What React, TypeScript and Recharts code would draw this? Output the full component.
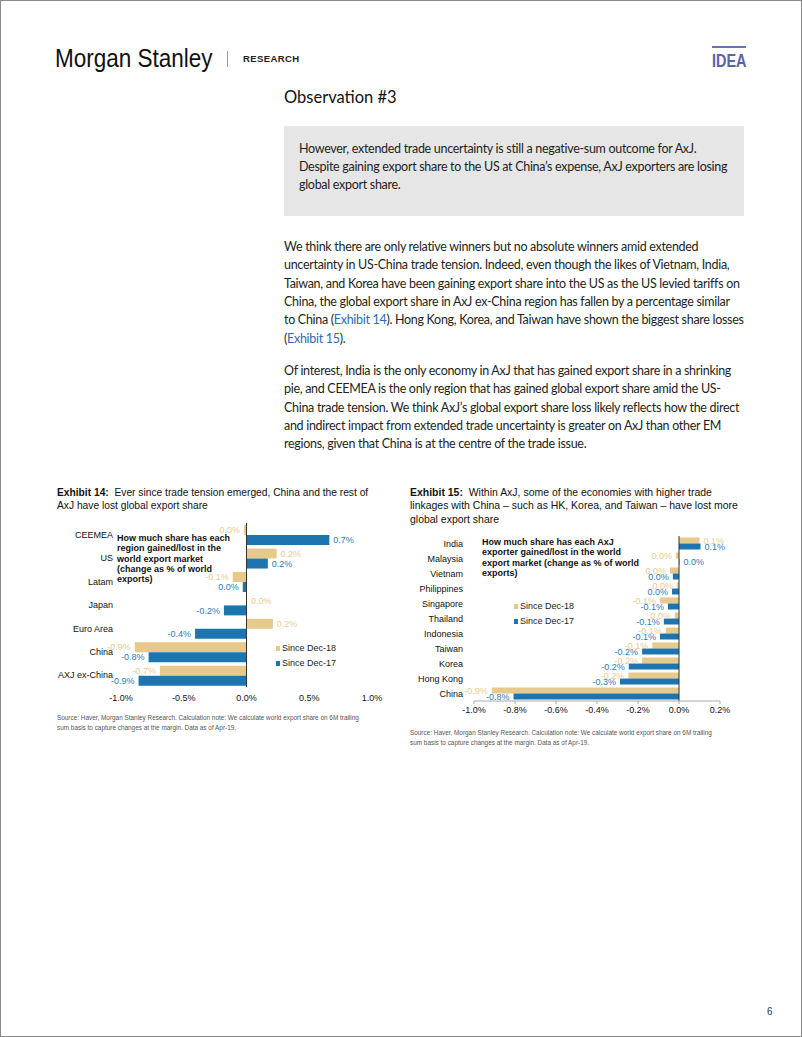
import React from 'react';
import { BarChart, Bar, XAxis, YAxis, ReferenceLine, LabelList, Legend } from 'recharts';

// ---------- Exhibit 14 data ----------
const regions = ['CEEMEA', 'US', 'Latam', 'Japan', 'Euro Area', 'China', 'AXJ ex-China'];
const regionSinceDec18 = [-0.02, 0.24, -0.11, 0.004, 0.21, -0.89, -0.69];
const regionSinceDec17 = [0.66, 0.17, -0.03, -0.18, -0.41, -0.78, -0.86];
const regionTicks = [-1, -0.5, 0, 0.5, 1];

// ---------- Exhibit 15 data ----------
const economies = ['India', 'Malaysia', 'Vietnam', 'Philippines', 'Singapore', 'Thailand', 'Indonesia', 'Taiwan', 'Korea', 'Hong Kong', 'China'];
const econSinceDec18 = [0.1, -0.015, -0.044, -0.01, -0.093, -0.02, -0.064, -0.13, -0.18, -0.247, -0.913];
const econSinceDec17 = [0.105, 0.002, -0.03, -0.034, -0.054, -0.074, -0.093, -0.18, -0.245, -0.288, -0.807];
const econTicks = [-1, -0.8, -0.6, -0.4, -0.2, 0, 0.2];

const seriesNames = ['Since Dec-18', 'Since Dec-17'];

const regionData = regions.map((name, i) => ({ name, d18: regionSinceDec18[i], d17: regionSinceDec17[i] }));
const econData = economies.map((name, i) => ({ name, d18: econSinceDec18[i], d17: econSinceDec17[i] }));

const TAN = '#E8C98C';
const TAN_LABEL = '#EBCB90';
const BLUE = '#1C75AE';
const BLUE_LABEL = '#2A7CB8';
const ARIAL = "'Liberation Sans', Arial, sans-serif";
const BODY = "Lato, 'Open Sans', sans-serif";

const fmt = (v: number) => {
  const r = Math.round(v * 10) / 10;
  return (r === 0 ? 0 : r).toFixed(1) + '%';
};

const makeLabel = (color: string) => (props: any) => {
  const x = Number(props.x), w = Number(props.width), y = Number(props.y), h = Number(props.height);
  const v = Number(props.value);
  const end = v >= 0 ? Math.max(x, x + w) : Math.min(x, x + w);
  return (
    <text
      x={end + (v >= 0 ? 4 : -4)}
      y={y + h / 2}
      dy="0.35em"
      textAnchor={v >= 0 ? 'start' : 'end'}
      fill={color}
      fontSize={9}
      fontFamily={ARIAL}
    >
      {fmt(v)}
    </text>
  );
};

const YTick = (props: any) => (
  <text x={props.x} y={props.y} dy="0.35em" textAnchor="end" fontSize={9} fontFamily={ARIAL} fill="#111">
    {props.payload.value}
  </text>
);

const LegendContent = (props: any) => {
  const payload = [...(props.payload || [])].sort(
    (a: any, b: any) => seriesNames.indexOf(a.value) - seriesNames.indexOf(b.value)
  );
  return (
    <div style={{ fontFamily: ARIAL, fontSize: 9, color: '#222', lineHeight: '15px' }}>
      {payload.map((p: any) => (
        <div key={p.value} style={{ display: 'flex', alignItems: 'center', whiteSpace: 'nowrap' }}>
          <span style={{ display: 'inline-block', width: 4, height: 5, background: p.color, marginRight: 2 }} />
          <span>{p.value}</span>
        </div>
      ))}
    </div>
  );
};

const Abs = ({ x, y, style, children, sx }: any) => (
  <div
    style={{
      position: 'absolute',
      left: x,
      top: y,
      whiteSpace: 'nowrap',
      transform: sx ? `scaleX(${sx})` : undefined,
      transformOrigin: '0 0',
      ...style,
    }}
  >
    {children}
  </div>
);

const bodyStyle = { fontFamily: BODY, fontSize: 12.5, letterSpacing: '-0.3px', color: '#231F20', lineHeight: '18px' };
const link = { color: '#2B6CB0' };
const titleStyle = { fontFamily: ARIAL, fontSize: 11.5, color: '#111', lineHeight: '13.3px' };

const p1 = [
  'We think there are only relative winners but no absolute winners amid extended',
  'uncertainty in US-China trade tension. Indeed, even though the likes of Vietnam, India,',
  'Taiwan, and Korea have been gaining export share into the US as the US levied tariffs on',
  'China, the global export share in AxJ ex-China region has fallen by a percentage similar',
];
const p2 = [
  'Of interest, India is the only economy in AxJ that has gained export share in a shrinking',
  'pie, and CEEMEA is the only region that has gained global export share amid the US-',
  'China trade tension. We think AxJ\u2019s global export share loss likely reflects how the direct',
  'and indirect impact from extended trade uncertainty is greater on AxJ than other EM',
  'regions, given that China is at the centre of the trade issue.',
];
const boxLines = [
  'However, extended trade uncertainty is still a negative-sum outcome for AxJ.',
  'Despite gaining export share to the US at China\u2019s expense, AxJ exporters are losing',
  'global export share.',
];

const tickFmt = (v: number) => v.toFixed(1) + '%';

export default function App() {
  return (
    <div style={{ position: 'absolute', left: 0, top: 0, width: 802, height: 1037, background: '#fff', overflow: 'hidden' }}>
      {/* Page border */}
      <div style={{ position: 'absolute', left: 0, top: 0, width: 800, height: 1035, border: '1px solid #8A8A8A' }} />

      {/* Header */}
      <Abs x={55} y={43} sx={0.9} style={{ fontFamily: ARIAL, fontSize: 25, color: '#111', lineHeight: '30px' }}>Morgan Stanley</Abs>
      <div style={{ position: 'absolute', left: 227, top: 51, width: 1, height: 16, background: '#999' }} />
      <Abs x={243} y={53} style={{ fontFamily: ARIAL, fontSize: 9.5, fontWeight: 700, letterSpacing: '0.4px', color: '#222', lineHeight: '12px' }}>RESEARCH</Abs>
      <div style={{ position: 'absolute', left: 712, top: 46, width: 34, height: 2, background: '#6D72B3' }} />
      <Abs x={712} y={51} sx={0.76} style={{ fontFamily: ARIAL, fontSize: 19, fontWeight: 700, color: '#5C62A8', lineHeight: '20px' }}>IDEA</Abs>

      {/* Observation */}
      <Abs x={284} y={86} style={{ fontFamily: BODY, fontSize: 16.5, color: '#111', lineHeight: '22px' }}>Observation #3</Abs>
      <div style={{ position: 'absolute', left: 284, top: 126, width: 460, height: 90, background: '#E6E6E6' }} />
      {boxLines.map((t, i) => (
        <Abs key={'b' + i} x={299} y={140 + i * 18.2} style={bodyStyle}>{t}</Abs>
      ))}
      {p1.map((t, i) => (
        <Abs key={'p1' + i} x={284} y={238 + i * 18.3} style={bodyStyle}>{t}</Abs>
      ))}
      <Abs x={284} y={238 + 4 * 18.3} style={bodyStyle}>
        to China (<span style={link}>Exhibit 14</span>). Hong Kong, Korea, and Taiwan have shown the biggest share losses
      </Abs>
      <Abs x={284} y={238 + 5 * 18.3} style={bodyStyle}>
        (<span style={link}>Exhibit 15</span>).
      </Abs>
      {p2.map((t, i) => (
        <Abs key={'p2' + i} x={284} y={362 + i * 18.3} style={bodyStyle}>{t}</Abs>
      ))}

      {/* Exhibit 14 title */}
      <Abs x={57} y={486} sx={0.89} style={titleStyle}>
        <b>Exhibit 14:</b>&nbsp; Ever since trade tension emerged, China and the rest of<br />
        AxJ have lost global export share
      </Abs>

      {/* Exhibit 14 chart */}
      <div style={{ position: 'absolute', left: 50, top: 515 }}>
        <BarChart
          width={340}
          height={200}
          data={regionData}
          layout="vertical"
          margin={{ top: 8, right: 18, bottom: 0, left: 0 }}
          barCategoryGap="9%"
          barGap={0}
        >
          <XAxis
            type="number"
            domain={[-1, 1]}
            ticks={regionTicks}
            tickFormatter={tickFmt}
            axisLine={false}
            tickLine={false}
            height={28}
            tick={{ fontSize: 9, fontFamily: ARIAL, fill: '#111' }}
          />
          <YAxis
            type="category"
            dataKey="name"
            width={71}
            axisLine={false}
            tickLine={false}
            interval={0}
            tick={YTick}
          />
          <Legend
            layout="vertical"
            align="center"
            verticalAlign="middle"
            content={LegendContent}
            wrapperStyle={{ left: 226, top: 126, width: 90 }}
          />
          <Bar dataKey="d18" name={seriesNames[0]} fill={TAN} isAnimationActive={false}>
            <LabelList dataKey="d18" content={makeLabel(TAN_LABEL)} />
          </Bar>
          <Bar dataKey="d17" name={seriesNames[1]} fill={BLUE} isAnimationActive={false}>
            <LabelList dataKey="d17" content={makeLabel(BLUE_LABEL)} />
          </Bar>
          <ReferenceLine x={0} stroke="#333" strokeWidth={1} />
        </BarChart>
      </div>
      <Abs x={117} y={533} style={{ fontFamily: ARIAL, fontSize: 9, fontWeight: 700, color: '#111', lineHeight: '10.3px' }}>
        How much share has each<br />region gained/lost in the<br />world export market<br />(change as % of world<br />exports)
      </Abs>
      <Abs x={57} y={713} style={{ fontFamily: ARIAL, fontSize: 6.4, color: '#555', lineHeight: '9.5px' }}>
        Source: Haver, Morgan Stanley Research. Calculation note: We calculate world export share on 6M trailing<br />
        sum basis to capture changes at the margin. Data as of Apr-19.
      </Abs>

      {/* Exhibit 15 title */}
      <Abs x={410} y={486} sx={0.91} style={titleStyle}>
        <b>Exhibit 15:</b>&nbsp; Within AxJ, some of the economies with higher trade<br />
        linkages with China – such as HK, Korea, and Taiwan – have lost more<br />
        global export share
      </Abs>

      {/* Exhibit 15 chart */}
      <div style={{ position: 'absolute', left: 405, top: 528 }}>
        <BarChart
          width={340}
          height={200}
          data={econData}
          layout="vertical"
          margin={{ top: 8, right: 25, bottom: 0, left: 0 }}
          barCategoryGap="10%"
          barGap={0}
        >
          <XAxis
            type="number"
            domain={[-1, 0.2]}
            ticks={econTicks}
            tickFormatter={tickFmt}
            axisLine={{ stroke: '#AAAAAA' }}
            tickLine={{ stroke: '#AAAAAA' }}
            tickSize={3}
            tickMargin={3}
            height={27}
            tick={{ fontSize: 9, fontFamily: ARIAL, fill: '#111' }}
          />
          <YAxis
            type="category"
            dataKey="name"
            width={69}
            axisLine={false}
            tickLine={false}
            tickMargin={5}
            interval={0}
            tick={YTick}
          />
          <Legend
            layout="vertical"
            align="center"
            verticalAlign="middle"
            content={LegendContent}
            wrapperStyle={{ left: 109, top: 71, width: 90 }}
          />
          <Bar dataKey="d18" name={seriesNames[0]} fill={TAN} isAnimationActive={false}>
            <LabelList dataKey="d18" content={makeLabel(TAN_LABEL)} />
          </Bar>
          <Bar dataKey="d17" name={seriesNames[1]} fill={BLUE} isAnimationActive={false}>
            <LabelList dataKey="d17" content={makeLabel(BLUE_LABEL)} />
          </Bar>
          <ReferenceLine x={0} stroke="#333" strokeWidth={1} />
        </BarChart>
      </div>
      <Abs x={482} y={537} style={{ fontFamily: ARIAL, fontSize: 9, fontWeight: 700, color: '#111', lineHeight: '10.3px' }}>
        How much share has each AxJ<br />exporter gained/lost in the world<br />export market (change as % of world<br />exports)
      </Abs>
      <Abs x={410} y={728} style={{ fontFamily: ARIAL, fontSize: 6.4, color: '#555', lineHeight: '9.5px' }}>
        Source: Haver, Morgan Stanley Research. Calculation note: We calculate world export share on 6M trailing<br />
        sum basis to capture changes at the margin. Data as of Apr-19.
      </Abs>

      {/* Page number */}
      <Abs x={767} y={1005} style={{ fontFamily: ARIAL, fontSize: 10, color: '#333', lineHeight: '14px' }}>6</Abs>
    </div>
  );
}
